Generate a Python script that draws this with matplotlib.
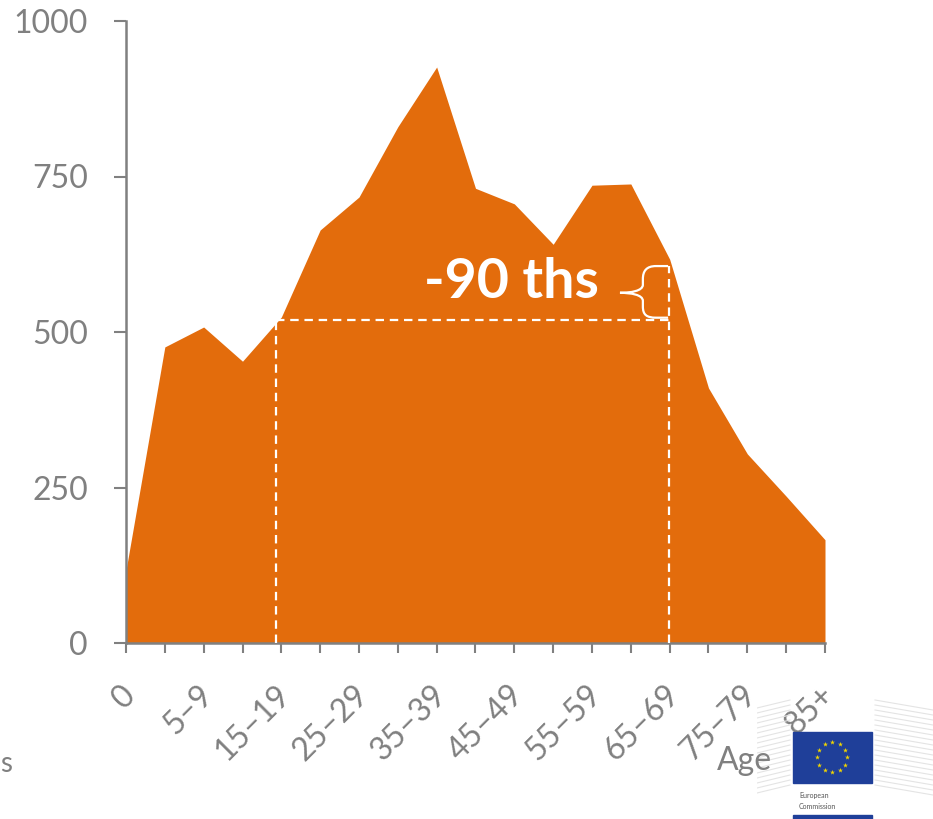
import numpy as np
import matplotlib
matplotlib.use("Agg")
import matplotlib.pyplot as plt
from matplotlib.path import Path
from matplotlib.patches import PathPatch, Rectangle
from matplotlib.transforms import ScaledTranslation

# age groups (x axis) and population in thousands
age_groups = ["0", "1–4", "5–9", "10–14", "15–19", "20–24", "25–29", "30–34",
              "35–39", "40–44", "45–49", "50–54", "55–59", "60–64", "65–69",
              "70–74", "75–79", "80–84", "85+"]
population = [117, 476, 508, 453, 524, 664, 717, 830, 926, 731, 706, 641,
              736, 738, 617, 410, 304, 236, 166]

# reference level and annotation
ref_level = 520
ref_x_left = 3.87
ref_x_right = 13.97
ref_top = 606
label_text = "-90 ths"

orange = "#E36C0C"
grey = "#808080"

plt.rcParams['font.family'] = ['Lato', 'DejaVu Sans']

fig = plt.figure(figsize=(9.33, 8.19), dpi=100)
W, H = 933, 819
ax = fig.add_axes([126 / W, 1 - 643 / H, 699 / W, 622 / H])

x = np.arange(len(age_groups))
ax.fill_between(x, population, 0, color=orange, linewidth=0, zorder=2)

ax.set_xlim(0, len(age_groups) - 1)
ax.set_ylim(0, 1000)
ax.set_yticks([0, 250, 500, 750, 1000])
ax.set_xticks(x)
ax.set_xticklabels([a if i % 2 == 0 else "" for i, a in enumerate(age_groups)],
                   rotation=45, ha="right", va="top", rotation_mode="anchor")

for s in ["top", "right"]:
    ax.spines[s].set_visible(False)
for s in ["left", "bottom"]:
    ax.spines[s].set_color(grey)
    ax.spines[s].set_linewidth(1.8)
    ax.spines[s].set_zorder(3)
ax.tick_params(axis="y", length=8.5, width=1.5, color=grey, labelcolor=grey,
               labelsize=23, pad=19)
ax.tick_params(axis="x", length=7.5, width=1.5, color=grey, labelcolor=grey,
               labelsize=23, pad=19)
shift = ScaledTranslation(-6 / 100, 0, fig.dpi_scale_trans)
for lbl in ax.get_xticklabels():
    lbl.set_transform(lbl.get_transform() + shift)

# dashed reference lines
dash = (0, (3.8, 2.6))
ax.plot([ref_x_left, ref_x_right], [ref_level, ref_level], color="white",
        lw=1.6, linestyle=dash, zorder=4)
ax.plot([ref_x_left, ref_x_left], [0, ref_level], color="white",
        lw=1.6, linestyle=dash, zorder=4)
ax.plot([ref_x_right, ref_x_right], [0, ref_top], color="white",
        lw=1.6, linestyle=dash, zorder=4)

# curly brace
verts = [(13.96, 606), (13.65, 606),
         (13.40, 606), (13.31, 598), (13.31, 585),
         (13.31, 576),
         (13.31, 566), (13.0, 563), (12.72, 563),
         (13.0, 563), (13.31, 560), (13.31, 550),
         (13.31, 541),
         (13.31, 528), (13.40, 523), (13.65, 523),
         (13.96, 523)]
codes = [Path.MOVETO, Path.LINETO,
         Path.CURVE4, Path.CURVE4, Path.CURVE4,
         Path.LINETO,
         Path.CURVE4, Path.CURVE4, Path.CURVE4,
         Path.CURVE4, Path.CURVE4, Path.CURVE4,
         Path.LINETO,
         Path.CURVE4, Path.CURVE4, Path.CURVE4,
         Path.LINETO]
ax.add_patch(PathPatch(Path(verts, codes), facecolor="none", edgecolor="white",
                       lw=1.6, zorder=5))

ax.text(9.92, 580, label_text, color="white", fontsize=40, fontweight="bold",
        ha="center", va="center", zorder=5)

# "Age" label and letter at the left edge
fig.text(717 / W, 1 - 770 / H, "Age", color=grey, fontsize=23, ha="left",
         va="baseline")
fig.text(0, 1 - 772 / H, "s", color=grey, fontsize=20, ha="left",
         va="baseline")

# European Commission logo (rough)
lax = fig.add_axes([757 / W, 0, 176 / W, 125 / H])
lax.set_xlim(757, 933)
lax.set_ylim(819, 694)
lax.axis("off")
for yy in np.arange(700, 786, 5):
    lax.plot([757, 790], [yy + 8, yy], color="#e4e4e4", lw=0.8)
    lax.plot([875, 933], [yy, yy + 10], color="#e4e4e4", lw=0.8)
lax.add_patch(Rectangle((793, 732), 79, 51, color="#1f3f99"))
ang = np.linspace(0, 2 * np.pi, 12, endpoint=False)
lax.scatter(832 + 15 * np.cos(ang), 757 + 15 * np.sin(ang), marker="*",
            s=14, color="#f2d600", linewidths=0)
lax.text(799, 795, "European", fontsize=5, color="#555555", va="center")
lax.text(799, 806, "Commission", fontsize=5, color="#555555", va="center")
lax.add_patch(Rectangle((793, 815), 79, 6, color="#1f3f99"))

fig.savefig("out.png", dpi=100)
